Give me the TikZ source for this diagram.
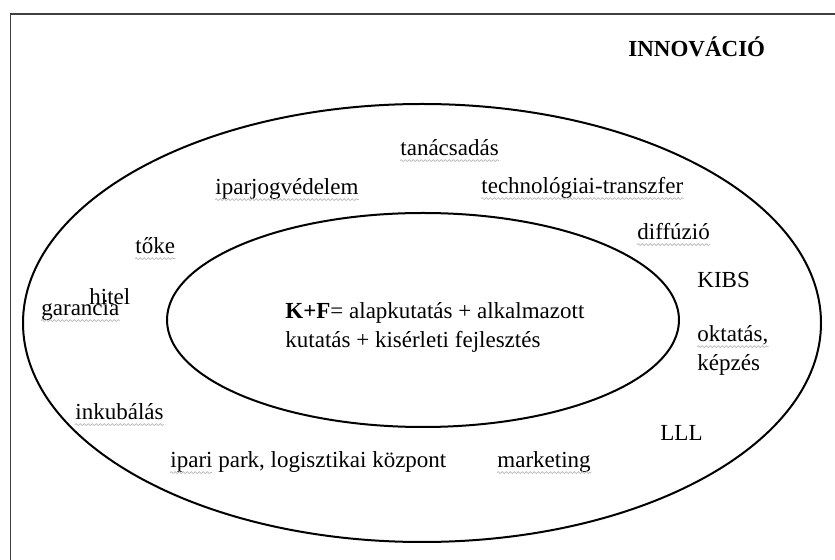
\documentclass[tikz,border=0pt]{standalone}
\usepackage{fontspec}
\setmainfont{Liberation Serif}
\usetikzlibrary{decorations.pathmorphing}

\begin{document}
\begin{tikzpicture}[
  x=0.5pt, y=-0.5pt,
  ring/.style={draw, line width=1pt},
  term/.style={inner sep=0pt, anchor=base west, font=\fontsize{11.5}{14}\selectfont},
  heading/.style={term, font=\fontsize{11.5}{14}\selectfont\bfseries},
  spell/.style={draw=gray!55, line width=0.35pt, decorate,
                decoration={snake, amplitude=0.45pt, segment length=2pt}}
]
\useasboundingbox (0,0) rectangle (835,560);
\clip (0,0) rectangle (835,560);
\draw[black!75, line width=0.9pt] (10.5,575) -- (10.5,14) -- (850,14);

\draw[ring] (422,323) ellipse [x radius=399, y radius=219];
\draw[ring] (423,320) ellipse [x radius=256, y radius=107];

\node[heading] (innov)   at (628,57)  {INNOVÁCIÓ};
\node[term]    (tanacs)  at (400,156) {tanácsadás};
\node[term]    (iparjog) at (215,195) {iparjogvédelem};
\node[term]    (techtr)  at (481,194) {technológiai-transzfer};
\node[term]    (diff)    at (637,240) {diffúzió};
\node[term]    (toke)    at (135,254) {tőke};
\node[term]    (hitel)   at (89,305)  {hitel};
\node[term]    (gar)     at (41,316)  {garancia};
\node[term]    (kibs)    at (697,288) {KIBS};
\node[term]    (kf1)     at (285,319) {\textbf{K+F}= alapkutatás + alkalmazott};
\node[term]    (kf2)     at (285,348) {kutatás + kisérleti fejlesztés};
\node[term]    (okt)     at (697,342) {oktatás,};
\node[term]    (kepz)    at (697,371) {képzés};
\node[term]    (inkub)   at (75,420)  {inkubálás};
\node[term]    (lll)     at (660,441) {LLL};
\node[term]    (ipari)   at (170,468) {ipari park, logisztikai központ};
\node[term]    (mark)    at (497,468) {marketing};

\foreach \n in {tanacs, iparjog, techtr, diff, toke, gar, okt, inkub, mark}
  \draw[spell] ([yshift=-2.3pt]\n.base west) -- ([yshift=-2.3pt]\n.base east);
\draw[spell] ([yshift=-2.3pt]ipari.base west) -- ++(21pt,0pt);
\end{tikzpicture}
\end{document}
